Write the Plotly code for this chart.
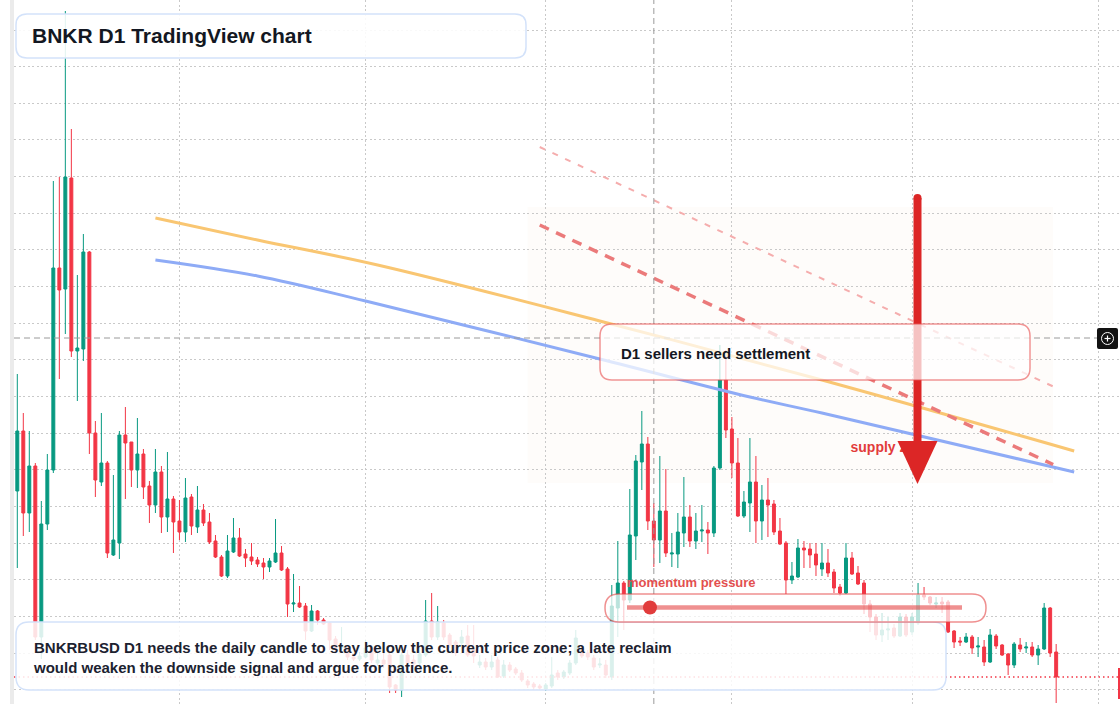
import pandas as pd
import plotly.graph_objects as go

# ---------------- data (price in 1e-6 USD) ----------------
START_DATE = "2025-07-05"
OPEN = [413, 473, 391, 438, 267, 380, 434, 636, 615, 726, 553, 555, 652, 471, 422, 441, 349, 361, 469, 462,
        434, 450, 418, 399, 432, 387, 405, 383, 372, 407, 377, 394, 382, 363, 347, 328, 352, 366, 350, 347,
        344, 341, 337, 342, 351, 335, 300, 301, 298, 273, 293, 284, 281, 265, 256, 256, 247, 245, 247, 256,
        241, 244, 249, 219, 214, 249, 244, 241, 249, 283, 267, 281, 269, 262, 261, 268, 254, 239, 242, 237,
        244, 228, 239, 235, 231, 223, 220, 218, 215, 218, 231, 227, 231, 241, 254, 251, 246, 239, 239, 227,
        296, 321, 304, 368, 442, 460, 383, 364, 393, 350, 350, 371, 387, 363, 373, 374, 371, 436, 524, 475,
        441, 388, 401, 422, 383, 404, 400, 373, 361, 324, 327, 356, 355, 350, 335, 341, 332, 317, 311, 346,
        331, 321, 300, 287, 269, 274, 276, 268, 287, 272, 281, 309, 307, 300, 302, 302, 273, 263, 262, 267,
        257, 257, 242, 268, 259, 250, 239, 259, 256, 257, 249, 255, 296, 252]
HIGH = [530, 491, 473, 441, 403, 450, 723, 727, 893, 775, 629, 670, 653, 483, 491, 443, 429, 473, 497, 462,
        486, 455, 423, 455, 438, 452, 408, 404, 426, 410, 418, 400, 391, 369, 349, 369, 386, 376, 355, 361,
        347, 346, 346, 385, 358, 337, 330, 318, 301, 299, 294, 286, 282, 268, 277, 259, 249, 252, 264, 259,
        254, 252, 251, 220, 252, 254, 249, 256, 304, 311, 298, 284, 271, 264, 274, 279, 279, 249, 246, 249,
        247, 244, 242, 237, 234, 225, 222, 220, 221, 247, 234, 234, 244, 274, 259, 254, 249, 246, 244, 319,
        363, 323, 415, 449, 493, 467, 401, 448, 435, 371, 391, 427, 399, 391, 399, 382, 438, 559, 554, 487,
        466, 413, 466, 448, 419, 426, 404, 386, 363, 342, 365, 363, 361, 361, 361, 355, 335, 320, 361, 352,
        338, 324, 304, 290, 291, 287, 280, 291, 290, 291, 321, 317, 308, 307, 307, 304, 274, 267, 271, 269,
        267, 264, 275, 270, 260, 251, 262, 266, 262, 262, 259, 301, 297, 260]
LOW = [336, 368, 372, 264, 245, 374, 431, 525, 570, 547, 503, 543, 450, 407, 418, 346, 348, 345, 405, 417,
       416, 405, 381, 391, 371, 372, 351, 364, 362, 369, 371, 378, 360, 346, 327, 326, 351, 347, 337, 339,
       337, 325, 332, 341, 333, 287, 292, 296, 264, 272, 279, 279, 254, 252, 254, 244, 243, 243, 246, 241,
       238, 236, 211, 211, 207, 238, 237, 239, 247, 264, 264, 264, 256, 248, 258, 247, 241, 236, 234, 234,
       226, 226, 232, 229, 222, 216, 214, 214, 213, 216, 224, 225, 229, 239, 246, 244, 234, 236, 226, 224,
       267, 274, 301, 344, 414, 374, 337, 341, 347, 337, 336, 357, 357, 355, 362, 350, 367, 434, 466, 426,
       387, 386, 372, 361, 364, 367, 369, 359, 310, 320, 326, 336, 336, 328, 328, 327, 311, 308, 310, 329,
       319, 290, 272, 264, 262, 264, 266, 267, 267, 269, 279, 304, 299, 296, 291, 271, 256, 258, 261, 250,
       247, 238, 241, 255, 248, 229, 236, 252, 251, 247, 239, 254, 247, 201]
CLOSE = [473, 391, 438, 267, 380, 434, 636, 614, 727, 553, 556, 652, 471, 424, 441, 351, 364, 469, 461, 434,
         450, 417, 399, 432, 387, 405, 382, 372, 406, 378, 394, 381, 362, 347, 328, 353, 366, 348, 346, 343,
         340, 337, 343, 351, 334, 300, 301, 297, 273, 293, 284, 280, 264, 256, 259, 247, 245, 248, 256, 244,
         244, 240, 217, 214, 249, 241, 240, 250, 283, 267, 282, 267, 259, 251, 267, 249, 248, 242, 237, 242,
         227, 239, 234, 231, 224, 219, 217, 216, 219, 229, 227, 232, 241, 266, 248, 247, 237, 240, 229, 298,
         321, 304, 369, 443, 460, 383, 364, 393, 351, 351, 372, 387, 363, 373, 374, 371, 436, 524, 474, 441,
         388, 402, 422, 383, 404, 399, 372, 360, 324, 328, 356, 354, 349, 339, 341, 331, 316, 311, 346, 330,
         320, 300, 287, 269, 274, 275, 268, 287, 269, 287, 309, 307, 301, 301, 300, 272, 262, 262, 267, 256,
         258, 242, 269, 258, 249, 239, 260, 255, 257, 249, 255, 296, 251, 227]

# moving-average style curves (date, price)
ORANGE_DATES = ["2025-07-28", "2025-08-14", "2025-09-03", "2025-10-10", "2025-11-16", "2025-12-28"]
ORANGE_VALS = [686, 664, 639, 583, 524, 453]
BLUE_DATES = ["2025-07-28", "2025-08-14", "2025-09-01", "2025-10-10", "2025-11-04", "2025-11-16", "2025-12-28"]
BLUE_VALS = [644, 628, 603, 545, 507, 491, 432]

# descending trend lines
TREND_DATES = ["2025-09-30", "2025-12-24 12:00"]
UPPER_TREND = [757, 517.5]
LOWER_TREND = [679, 439.5]

# supply zone
ZONE_DATES = ["2025-09-28", "2025-12-24 12:00"]
ZONE_PRICES = [421, 697]

CROSS_DATE = "2025-10-19"
CROSS_PRICE = 566

SCALE = 1e-6
dates = pd.date_range(START_DATE, periods=len(OPEN), freq="D")
sc = lambda arr: [v * SCALE for v in arr]

# ---------------- layout helpers (pixel -> paper) ----------------
W, H = 1120, 704
PL = 14
PW = W - PL


def fx(x):
    return (x - PL) / PW


def fy(y):
    return 1 - y / H


def rrect(x0, y0, x1, y1, r):
    pts = [("M", x0 + r, y0), ("L", x1 - r, y0), ("Q", x1, y0, x1, y0 + r), ("L", x1, y1 - r),
           ("Q", x1, y1, x1 - r, y1), ("L", x0 + r, y1), ("Q", x0, y1, x0, y1 - r), ("L", x0, y0 + r),
           ("Q", x0, y0, x0 + r, y0)]
    s = ""
    for p in pts:
        cmd = p[0]
        coords = p[1:]
        parts = []
        for i in range(0, len(coords), 2):
            parts.append(f"{fx(coords[i]):.5f},{fy(coords[i + 1]):.5f}")
        s += cmd + " " + " ".join(parts) + " "
    return s + "Z"


GREEN = "#089981"
RED = "#f23645"
GRID = "#c9c9c9"

fig = go.Figure()

fig.add_trace(go.Candlestick(
    x=dates, open=sc(OPEN), high=sc(HIGH), low=sc(LOW), close=sc(CLOSE),
    increasing=dict(line=dict(color=GREEN, width=1), fillcolor=GREEN),
    decreasing=dict(line=dict(color=RED, width=1), fillcolor=RED),
    whiskerwidth=0, showlegend=False, hoverinfo="skip"))

fig.add_trace(go.Scatter(x=ORANGE_DATES, y=sc(ORANGE_VALS), mode="lines", line=dict(color="#f9c672", width=3, shape="spline"),
                         showlegend=False, hoverinfo="skip"))
fig.add_trace(go.Scatter(x=BLUE_DATES, y=sc(BLUE_VALS), mode="lines", line=dict(color="#8eabf6", width=3, shape="spline"),
                         showlegend=False, hoverinfo="skip"))
fig.add_trace(go.Scatter(x=TREND_DATES, y=sc(UPPER_TREND), mode="lines", line=dict(color="#f5adad", width=2, dash="6px,8px"),
                         showlegend=False, hoverinfo="skip"))
fig.add_trace(go.Scatter(x=TREND_DATES, y=sc(LOWER_TREND), mode="lines", line=dict(color="#eb7a7a", width=3.5, dash="10px,8px"),
                         showlegend=False, hoverinfo="skip"))
fig.add_trace(go.Scatter(x=["2025-11-20 18:00"], y=[456 * SCALE], mode="text", text=["<b>supply zone</b>"],
                         textposition="middle right", textfont=dict(family="Liberation Sans, Arial", size=14, color="#e23b3b"),
                         showlegend=False, hoverinfo="skip"))

shapes = []
# supply zone
shapes.append(dict(type="rect", xref="x", yref="y", x0=ZONE_DATES[0], x1=ZONE_DATES[1], y0=ZONE_PRICES[0] * SCALE,
                   y1=ZONE_PRICES[1] * SCALE, fillcolor="rgba(240,190,150,0.045)", line=dict(width=0), layer="below"))
# left gray strip
shapes.append(dict(type="rect", xref="paper", yref="paper", x0=fx(10), x1=fx(14), y0=0, y1=1,
                   fillcolor="#ebebeb", line=dict(width=0), layer="above"))
# crosshair
shapes.append(dict(type="line", xref="x", yref="paper", x0=CROSS_DATE, x1=CROSS_DATE, y0=0, y1=1,
                   line=dict(color="#9a9a9a", width=1, dash="6px,4px"), layer="above"))
shapes.append(dict(type="line", xref="paper", yref="y", x0=0, x1=fx(1097), y0=CROSS_PRICE * SCALE, y1=CROSS_PRICE * SCALE,
                   line=dict(color="#9a9a9a", width=1, dash="6px,4px"), layer="above"))
# current price line
shapes.append(dict(type="line", xref="paper", yref="y", x0=0, x1=1, y0=CLOSE[-1] * SCALE, y1=CLOSE[-1] * SCALE,
                   line=dict(color=RED, width=1.5, dash="1.5px,3px"), layer="above"))
# arrow
shapes.append(dict(type="line", xref="paper", yref="paper", x0=fx(917.5), x1=fx(917.5), y0=fy(198), y1=fy(446),
                   line=dict(color="#dc2626", width=8), layer="above"))
shapes.append(dict(type="circle", xref="paper", yref="paper", x0=fx(913.5), x1=fx(921.5), y0=fy(194), y1=fy(202),
                   fillcolor="#dc2626", line=dict(width=0), layer="above"))
shapes.append(dict(type="path", xref="paper", yref="paper",
                   path=f"M {fx(897.5)},{fy(441)} L {fx(937.5)},{fy(441)} L {fx(917.5)},{fy(484)} Z",
                   fillcolor="#dc2626", line=dict(width=0), layer="above"))
# boxes
shapes.append(dict(type="path", xref="paper", yref="paper", path=rrect(16, 14, 526, 58, 11),
                   fillcolor="rgba(255,255,255,0.88)", line=dict(color="#d3e2fa", width=1.5), layer="above"))
shapes.append(dict(type="path", xref="paper", yref="paper", path=rrect(600, 324, 1030, 380, 12),
                   fillcolor="rgba(255,255,255,0.72)", line=dict(color="rgba(232,80,80,0.6)", width=1.5), layer="above"))
shapes.append(dict(type="path", xref="paper", yref="paper", path=rrect(16, 622, 946, 690, 13),
                   fillcolor="rgba(255,255,255,0.85)", line=dict(color="#d3e2fa", width=1.5), layer="above"))
shapes.append(dict(type="path", xref="paper", yref="paper", path=rrect(605, 594, 986, 622, 14),
                   fillcolor="rgba(255,255,255,0.72)", line=dict(color="rgba(228,70,70,0.6)", width=1.5), layer="above"))
shapes.append(dict(type="line", xref="paper", yref="paper", x0=fx(627), x1=fx(962), y0=fy(607.5), y1=fy(607.5),
                   line=dict(color="rgba(228,70,70,0.6)", width=4.5), layer="above"))
shapes.append(dict(type="circle", xref="paper", yref="paper", x0=fx(643), x1=fx(657), y0=fy(600.5), y1=fy(614.5),
                   fillcolor="#e13c3c", line=dict(width=0), layer="above"))
# crosshair price label on the right
shapes.append(dict(type="path", xref="paper", yref="paper", path=rrect(1097, 328, 1118, 349, 2),
                   fillcolor="#121212", line=dict(width=0), layer="above"))
shapes.append(dict(type="circle", xref="paper", yref="paper", x0=fx(1101.5), x1=fx(1113.5), y0=fy(332.5), y1=fy(344.5),
                   line=dict(color="white", width=1), layer="above"))
shapes.append(dict(type="line", xref="paper", yref="paper", x0=fx(1104.5), x1=fx(1110.5), y0=fy(338.5), y1=fy(338.5),
                   line=dict(color="white", width=1.2), layer="above"))
shapes.append(dict(type="line", xref="paper", yref="paper", x0=fx(1107.5), x1=fx(1107.5), y0=fy(335.5), y1=fy(341.5),
                   line=dict(color="white", width=1.2), layer="above"))
# last price tag edge
shapes.append(dict(type="rect", xref="paper", yref="paper", x0=fx(1118), x1=fx(1122), y0=fy(699), y1=fy(668),
                   fillcolor=RED, line=dict(width=0), layer="above"))

FONT = "Liberation Sans, Arial, sans-serif"
annotations = [
    dict(text="<b>BNKR D1 TradingView chart</b>", x=fx(29.5), y=fy(35.5), xref="paper", yref="paper", xanchor="left",
         yanchor="middle", showarrow=False, font=dict(family=FONT, size=21, color="#131722")),
    dict(text="<b>D1 sellers need settlement</b>", x=fx(619), y=fy(353.5), xref="paper", yref="paper", xanchor="left",
         yanchor="middle", showarrow=False, font=dict(family=FONT, size=15, color="#131722")),
    dict(text="<b>momentum pressure</b>", x=fx(625), y=fy(582.5), xref="paper", yref="paper", xanchor="left",
         yanchor="middle", showarrow=False, font=dict(family=FONT, size=13, color="#e34f4f")),
    dict(text="<b>BNKRBUSD D1 needs the daily candle to stay below the current price zone; a late reclaim<br>"
              "would weaken the downside signal and argue for patience.</b>",
         x=fx(30.5), y=fy(657.5), xref="paper", yref="paper", xanchor="left", yanchor="middle", align="left",
         showarrow=False, font=dict(family=FONT, size=15, color="#1c2230")),
]

x_start = pd.Timestamp(START_DATE) - pd.Timedelta(hours=13.2)
x_end = x_start + pd.Timedelta(days=PW / 6.005)

fig.update_layout(
    width=W, height=H, margin=dict(l=PL, r=0, t=0, b=0),
    paper_bgcolor="white", plot_bgcolor="white",
    shapes=shapes, annotations=annotations, showlegend=False,
    xaxis=dict(type="date", range=[x_start, x_end], rangeslider=dict(visible=False), showticklabels=False,
               showgrid=True, gridcolor=GRID, griddash="2px,2.5px", gridwidth=1,
               dtick="M1", tick0="2025-08-01", zeroline=False, showline=False, ticks=""),
    yaxis=dict(range=[200 * SCALE, 904 * SCALE], showticklabels=False, showgrid=True,
               gridcolor=GRID, griddash="2px,2.5px", gridwidth=1,
               tick0=874 * SCALE, dtick=36.65 * SCALE, zeroline=False, showline=False, ticks=""),
)

fig.write_html("out.html")
